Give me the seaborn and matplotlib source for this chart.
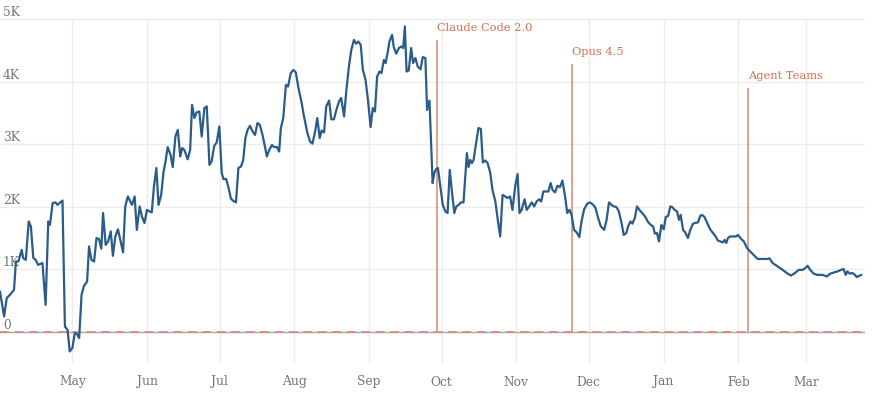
import numpy as np
import pandas as pd
import seaborn as sns
import matplotlib.pyplot as plt
import matplotlib.dates as mdates

# days since 2025-04-01 and daily values
day = [
    0.0, 1.7, 2.8, 4.1, 5.8, 6.6, 7.6, 9.0, 9.6, 10.7, 11.9, 12.8, 13.8, 14.8, 15.8,
    17.6, 18.9, 20.0, 20.7, 21.8, 23.0, 23.8, 25.9, 26.9, 28.0, 28.9, 30.0, 31.0,
    31.9, 32.8, 33.8, 34.7, 36.1, 36.9, 37.9, 39.0, 40.0, 41.0, 42.0, 42.7, 43.8,
    44.8, 45.9, 46.8, 47.8, 48.9, 50.0, 51.0, 51.9, 53.0, 54.7, 55.8, 56.7, 57.9,
    58.8, 59.9, 60.9, 62.0, 62.9, 63.8, 64.8, 65.7, 66.8, 67.8, 68.6, 69.5, 70.7,
    71.6, 72.7, 73.7, 74.7, 75.5, 76.4, 77.8, 78.8, 79.6, 80.6, 81.5, 82.6, 83.6,
    84.7, 85.7, 86.8, 87.7, 88.8, 89.8, 90.9, 91.9, 92.6, 93.7, 94.6, 95.7, 96.7,
    97.8, 98.8, 99.9, 100.8, 101.7, 102.6, 103.6, 104.7, 105.7, 106.7, 107.7, 108.8,
    109.8, 110.6, 111.6, 112.7, 113.6, 114.8, 115.7, 116.4, 117.4, 118.5, 119.4,
    120.5, 121.6, 122.6, 123.7, 124.9, 126.0, 127.4, 128.5, 129.5, 130.6, 131.5,
    132.5, 133.3, 134.3, 135.2, 136.4, 137.3, 138.4, 139.4, 140.5, 141.4, 142.6,
    143.5, 144.6, 145.6, 146.7, 147.6, 148.5, 149.5, 150.4, 151.5, 152.5, 153.6,
    154.5, 155.4, 156.3, 157.3, 158.1, 159.1, 159.8, 160.5, 161.4, 162.5, 163.2,
    164.2, 165.3, 166.4, 167.1, 167.8, 168.5, 169.4, 170.4, 171.2, 172.2, 173.1,
    174.3, 175.2, 176.3, 177.0, 178.0, 179.3, 180.0, 180.7, 181.5, 182.5, 183.5,
    184.6, 185.5, 186.4, 187.3, 188.3, 189.1, 190.1, 191.0, 192.1, 193.5, 194.2,
    194.9, 195.6, 196.3, 197.2, 198.3, 199.3, 200.1, 201.1, 202.1, 203.2, 204.1,
    205.3, 206.3, 207.3, 208.3, 209.4, 210.3, 211.4, 212.4, 213.5, 214.5, 215.3,
    216.2, 217.4, 218.3, 219.3, 220.4, 221.4, 222.4, 223.4, 224.3, 225.2, 226.2,
    227.3, 228.2, 229.0, 230.0, 231.0, 232.1, 233.1, 234.2, 235.1, 236.0, 236.9,
    237.9, 239.0, 240.1, 241.0, 242.1, 243.4, 244.5, 245.9, 246.8, 247.9, 249.0,
    250.4, 251.4, 252.4, 253.4, 254.5, 255.5, 256.5, 257.6, 258.5, 259.6, 260.3,
    261.3, 262.1, 263.1, 264.0, 265.2, 266.2, 267.5, 268.6, 269.7, 270.7, 271.4,
    272.3, 273.1, 274.1, 275.1, 275.9, 276.9, 277.8, 278.6, 279.6, 280.6, 281.4,
    282.1, 283.1, 284.0, 285.1, 286.1, 287.2, 288.1, 289.3, 290.2, 291.0, 292.0,
    293.1, 294.3, 295.5, 296.6, 297.5, 298.6, 299.6, 300.3, 301.0, 301.7, 302.6,
    303.7, 305.1, 305.8, 307.2, 308.3, 309.6, 311.3, 312.7, 314.0, 316.1, 317.9,
    318.9, 320.2, 322.3, 324.4, 326.4, 327.8, 329.5, 331.0, 332.6, 333.8, 334.7,
    335.8, 337.2, 338.8, 340.9, 342.7, 344.1, 345.7, 347.1, 348.5, 349.6, 350.5,
    351.2, 352.2, 353.3, 354.3, 355.1, 356.1, 357.0,
]
value = [
    645, 245, 540, 590, 670, 1125, 1125, 1310, 1180, 1150, 1765, 1685, 1180, 1150, 1070,
    1100, 430, 1765, 1710, 2060, 2070, 2030, 2100, 85, 30, -315, -260, -20,
    -35, -100, 590, 725, 805, 1365, 1150, 1125, 1500, 1485, 1330, 1900, 1390,
    1445, 1605, 1215, 1525, 1640, 1445, 1270, 2005, 2165, 2030, 2165, 1630, 2005,
    1845, 1740, 1950, 1925, 1910, 2325, 2620, 2030, 2190, 2565, 2725, 2955, 2830,
    2635, 3125, 3230, 2805, 2940, 2910, 2760, 2910, 3630, 3420, 3510, 3525, 3125,
    3580, 3605, 2670, 2725, 2975, 3030, 3285, 2540, 2445, 2445, 2325, 2130, 2095,
    2070, 2620, 2645, 2750, 3100, 3230, 3295, 3205, 3150, 3340, 3310, 3150,
    2965, 2805, 2910, 2990, 2955, 2955, 2885, 3260, 3420, 3950, 3925,
    4140, 4190, 4150, 3900, 3685, 3445, 3180, 3045, 3010, 3205, 3420,
    3100, 3220, 3190, 3605, 3700, 3400, 3400, 3550, 3685, 3740, 3445,
    3845, 4245, 4510, 4670, 4610, 4645, 4590, 4190, 4030, 3710, 3275,
    3580, 3525, 4085, 4165, 4140, 4350, 4300, 4430, 4645, 4750, 4555,
    4450, 4540, 4565, 4540, 4885, 4165, 4180, 4540, 4300, 4380, 4245,
    4200, 4395, 4380, 3550, 3700, 2380, 2540, 2600, 2620, 2325, 2030,
    1925, 1900, 2590, 2245, 1900, 2005, 2030, 2070, 2070, 2860, 2635,
    2750, 2700, 2750, 2990, 3260, 3245, 2710, 2740, 2700, 2540, 2270,
    2085, 1790, 1525, 2190, 2165, 2140, 2165, 1950, 2325, 2525, 1900,
    1950, 2120, 1950, 2005, 2070, 2005, 2085, 2120, 2085, 2245, 2245,
    2245, 2380, 2270, 2230, 2335, 2315, 2420, 2165, 1900, 1950, 1870,
    1630, 1590, 1515, 1765, 1960, 2050, 2070, 2030, 1980, 1820, 1685,
    1630, 1790, 2070, 2030, 2005, 1995, 1925, 1740, 1550, 1580, 1685,
    1765, 1730, 1820, 2005, 1940, 1900, 1835, 1755, 1710, 1685, 1570,
    1580, 1445, 1710, 1640, 1835, 1855, 2005, 1995, 1950, 1925, 1790,
    1870, 1630, 1590, 1500, 1630, 1730, 1740, 1750, 1855, 1870, 1835,
    1740, 1640, 1580, 1525, 1460, 1445, 1430, 1470, 1420, 1500, 1525,
    1525, 1525, 1550, 1485, 1445, 1340, 1270, 1215, 1165, 1165, 1165,
    1175, 1100, 1045, 990, 930, 900, 940, 990, 990, 1020, 1055,
    990, 930, 910, 910, 885, 930, 950, 965, 990, 1005, 910,
    965, 930, 940, 910, 875, 895, 910,
]

event_names = ["Claude Code 2.0", "Opus 4.5", "Agent Teams"]
event_dates = ["2025-09-29", "2025-11-24", "2026-02-05"]
event_tops = [4670, 4290, 3900]

month_ticks = pd.date_range("2025-05-01", "2026-03-01", freq="MS")

ytick_vals = [0, 1000, 2000, 3000, 4000, 5000]
ytick_labels = ["0", "1K", "2K", "3K", "4K", "5K"]

start = pd.Timestamp("2025-04-01")
df = pd.DataFrame({
    "date": start + pd.to_timedelta(day, unit="D"),
    "value": value,
})

sns.set_theme(style="white")
plt.rcParams["font.family"] = ["DejaVu Serif"]

fig = plt.figure(figsize=(8.8, 3.96), dpi=100)
ax = fig.add_axes([0.0, 1 - 363 / 396, 865 / 880, (363 - 19.3) / 396])

line_blue = "#2b5c89"
accent = "#d9876d"
grey_text = "#777777"

# zero line: grey solid with a dashed red overlay
ax.axhline(0, color="#aaaaaa", lw=1.0, zorder=1)
ax.axhline(0, color="#d98a80", lw=1.3, ls=(0, (5, 3)), zorder=2)

# event markers
for name, d, top in zip(event_names, event_dates, event_tops):
    d = pd.Timestamp(d)
    ax.vlines(d, 0, top, color=accent, lw=1.3, alpha=0.85, zorder=2)
    ax.annotate(name, xy=(d, top), xytext=(0, 12), textcoords="offset pixels",
                ha="left", va="center", color="#d2704f", fontsize=8.2)

sns.lineplot(data=df, x="date", y="value", color=line_blue, lw=1.6, ax=ax, zorder=3)

ax.set_xlim(start, pd.Timestamp("2026-03-25 12:00"))
ax.set_ylim(-500, 5000)

ax.set_xticks(month_ticks)
ax.xaxis.set_major_formatter(mdates.DateFormatter("%b"))
ax.set_yticks(ytick_vals)
ax.set_yticklabels(ytick_labels)

ax.grid(True, color="#ececec", lw=1.0)
ax.set_axisbelow(True)
for s in ax.spines.values():
    s.set_visible(False)

ax.tick_params(axis="x", length=0, pad=9, labelsize=8.8, labelcolor=grey_text)
ax.tick_params(axis="y", length=0, pad=-2, labelsize=8.8, labelcolor=grey_text)
for lbl in ax.get_yticklabels():
    lbl.set_horizontalalignment("left")
    lbl.set_verticalalignment("bottom")

ax.set_xlabel("")
ax.set_ylabel("")

fig.savefig("out.png", dpi=100)
